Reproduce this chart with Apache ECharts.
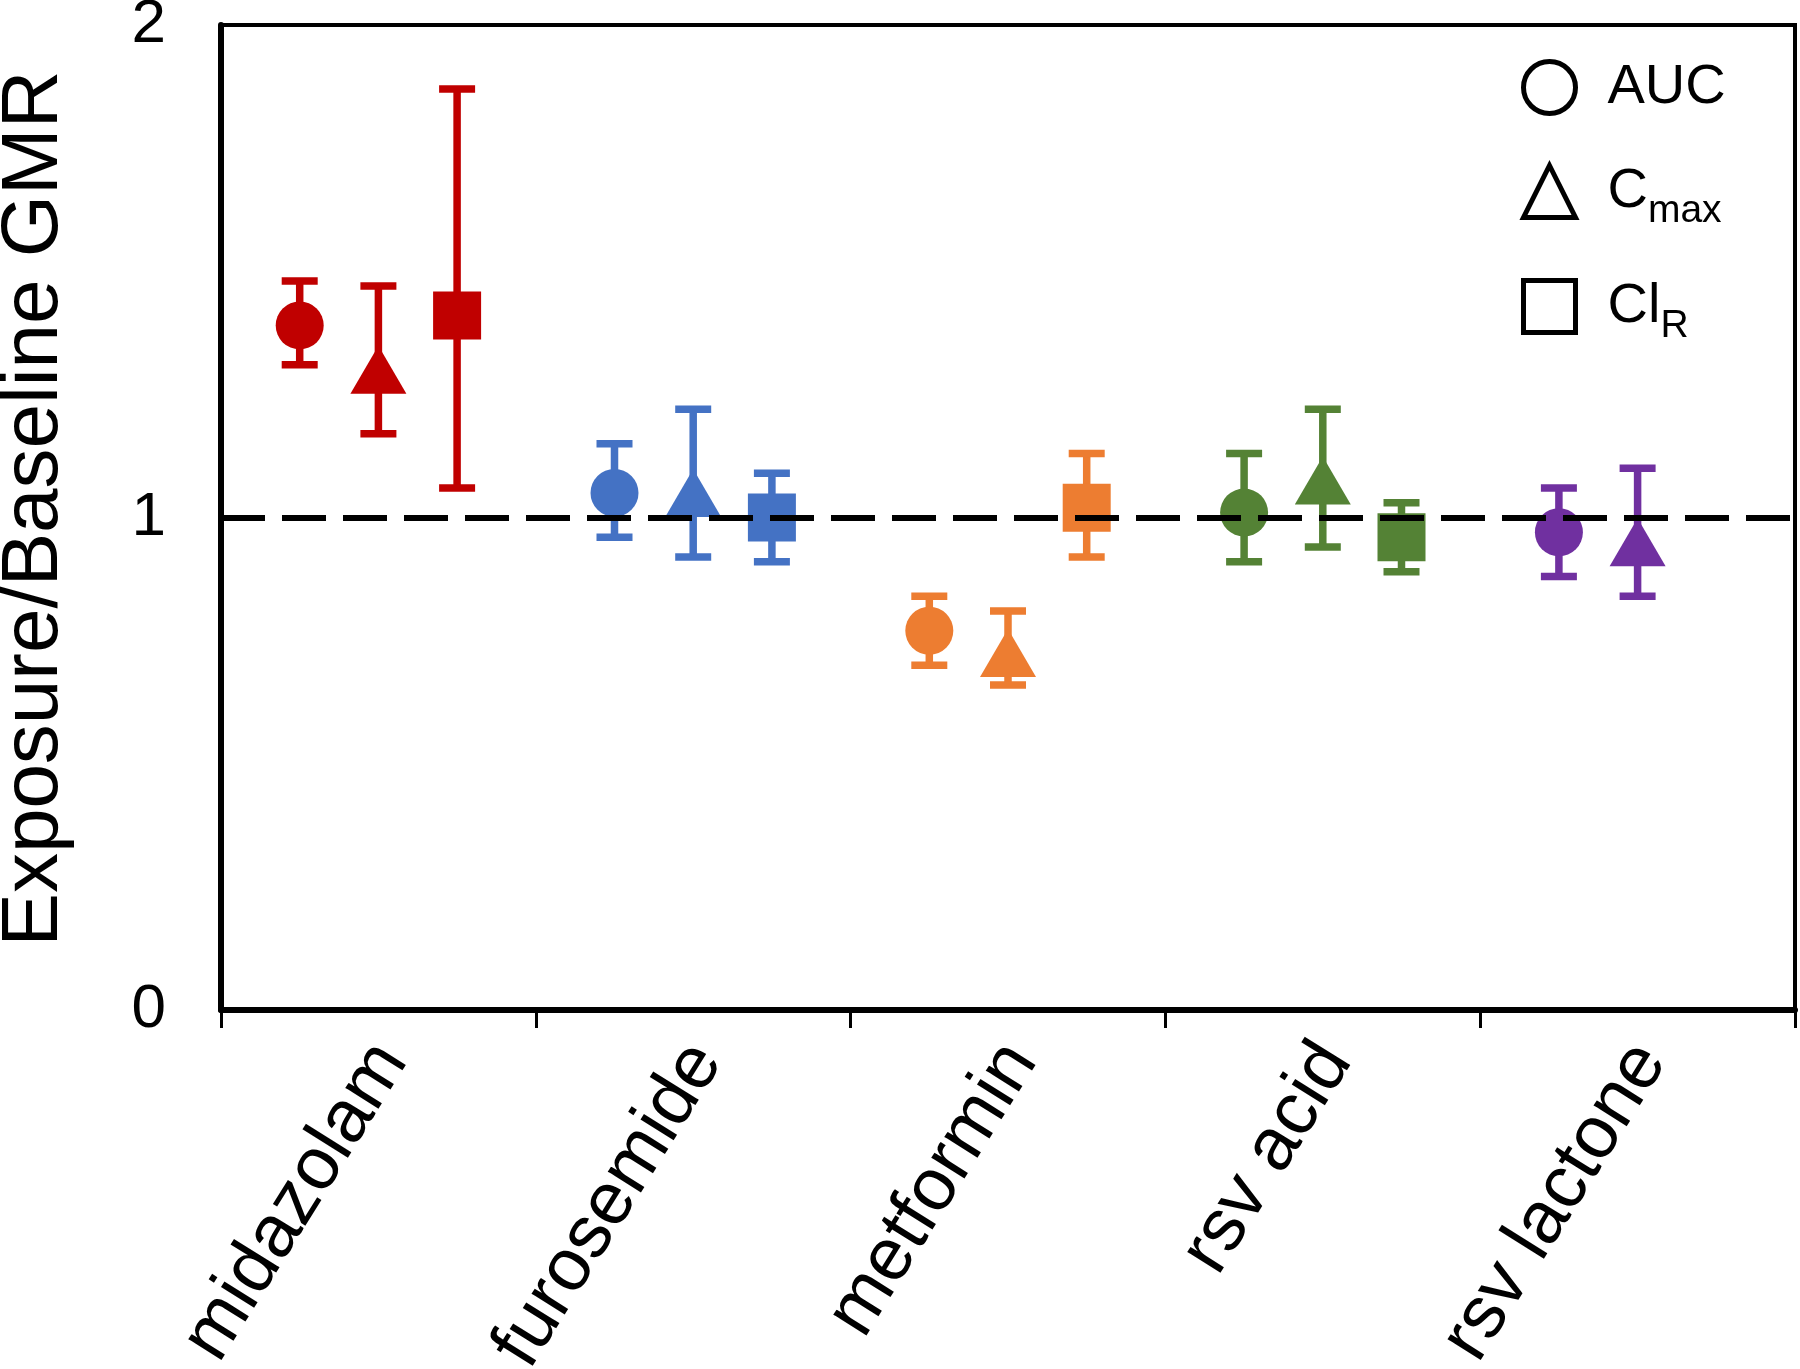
<!DOCTYPE html>
<html>
<head>
<meta charset="utf-8">
<script src="https://cdn.jsdelivr.net/npm/echarts@6/dist/echarts.min.js"></script>
<style>
html,body{margin:0;padding:0;background:#fff;}
#chart{width:1800px;height:1369px;}
</style>
</head>
<body>
<div id="chart"></div>
<script>
// ---- data ----
const categories = ['midazolam', 'furosemide', 'metformin', 'rsv acid', 'rsv lactone'];
const yTicks = [0, 1, 2];

const aucValues = [1.39, 1.05, 0.77, 1.01, 0.97];
const aucLow    = [1.31, 0.96, 0.70, 0.91, 0.88];
const aucHigh   = [1.48, 1.15, 0.84, 1.13, 1.06];

const cmaxValues = [1.30, 1.05, 0.725, 1.075, 0.95];
const cmaxLow    = [1.17, 0.92, 0.66, 0.94, 0.84];
const cmaxHigh   = [1.47, 1.22, 0.81, 1.22, 1.10];

const clrValues = [1.41, 1.00, 1.02, 0.96, null];
const clrLow    = [1.06, 0.91, 0.92, 0.89, null];
const clrHigh   = [1.87, 1.09, 1.13, 1.03, null];

const referenceLine = 1;

// ---- styles ----
const categoryColors = ['#C00000', '#4472C4', '#ED7D31', '#548235', '#7030A0'];
const FONT = '"Liberation Sans", Arial, Helvetica, sans-serif';

function buildData(vals, lows, highs) {
  const out = [];
  vals.forEach((v, i) => {
    if (v !== null) out.push([i, v, lows[i], highs[i]]);
  });
  return out;
}

function makeRenderer(shape, offsetFrac) {
  return function (params, api) {
    const ci = api.value(0);
    const p = api.coord([ci, api.value(1)]);
    const yLo = api.coord([ci, api.value(2)])[1];
    const yHi = api.coord([ci, api.value(3)])[1];
    const band = api.size([1, 0])[0];
    const x = p[0] + offsetFrac * band;
    const y = p[1];
    const color = categoryColors[ci];
    const lw = 7.5, cap = 18;
    const lineStyle = { stroke: color, lineWidth: lw, fill: null };
    const children = [
      { type: 'line', shape: { x1: x, y1: yLo, x2: x, y2: yHi }, style: lineStyle },
      { type: 'line', shape: { x1: x - cap, y1: yLo, x2: x + cap, y2: yLo }, style: lineStyle },
      { type: 'line', shape: { x1: x - cap, y1: yHi, x2: x + cap, y2: yHi }, style: lineStyle }
    ];
    if (shape === 'circle') {
      children.push({ type: 'circle', shape: { cx: x, cy: y, r: 24 }, style: { fill: color } });
    } else if (shape === 'triangle') {
      children.push({ type: 'polygon', shape: { points: [[x, y - 24], [x + 28, y + 24], [x - 28, y + 24]] }, style: { fill: color } });
    } else {
      children.push({ type: 'rect', shape: { x: x - 24, y: y - 24, width: 48, height: 48 }, style: { fill: color } });
    }
    return { type: 'group', children: children };
  };
}

const legendLabels = { 'AUC': 'AUC', 'Cmax': 'C{sub|max}', 'ClR': 'Cl{sub|R}' };
const legendIconStyle = { color: 'rgba(0,0,0,0)', borderColor: '#000', borderWidth: 5 };

const chart = echarts.init(document.getElementById('chart'), null, { renderer: 'canvas' });
chart.setOption({
  animation: false,
  backgroundColor: '#fff',
  grid: {
    left: 221, right: 5, top: 25, bottom: 359,
    containLabel: false, outerBoundsMode: 'none',
    show: true, borderColor: '#000', borderWidth: 4, backgroundColor: 'transparent'
  },
  legend: {
    orient: 'vertical', left: 1516, top: 54,
    itemWidth: 52, itemHeight: 52, itemGap: 36,
    selectedMode: false,
    data: [
      { name: 'AUC', icon: 'circle', itemStyle: legendIconStyle },
      { name: 'Cmax', icon: 'triangle', itemStyle: legendIconStyle },
      { name: 'ClR', icon: 'rect', itemStyle: legendIconStyle }
    ],
    formatter: function (name) { return legendLabels[name]; },
    textStyle: {
      fontFamily: FONT, fontSize: 56, color: '#000', padding: [0, 0, 0, 27],
      rich: { sub: { fontFamily: FONT, fontSize: 39, color: '#000', lineHeight: 39, padding: [40, 0, 0, 0] } }
    }
  },
  xAxis: {
    type: 'category',
    data: categories,
    boundaryGap: true,
    axisLine: { show: true, lineStyle: { color: '#000', width: 6 } },
    axisTick: { show: true, inside: false, length: 18, lineStyle: { color: '#000', width: 3 } },
    axisLabel: {
      rotate: 58, fontFamily: FONT, fontSize: 74, color: '#000', margin: 32, interval: 0,
      verticalAlign: 'top', lineHeight: 30
    },
    splitLine: { show: false }
  },
  yAxis: {
    type: 'value',
    min: yTicks[0], max: yTicks[yTicks.length - 1], interval: 1,
    name: 'Exposure/Baseline GMR',
    nameLocation: 'middle', nameGap: 146,
    nameTextStyle: { fontFamily: FONT, fontSize: 80, color: '#000', padding: [0, 0, 0, 18] },
    axisLine: { show: true, lineStyle: { color: '#000', width: 6 } },
    axisTick: { show: false },
    axisLabel: { fontFamily: FONT, fontSize: 62, color: '#000', margin: 55 },
    splitLine: { show: false }
  },
  series: [
    {
      name: 'reference', type: 'custom', z: 1, silent: true,
      renderItem: function () { return null; },
      data: [],
      markLine: {
        silent: true, symbol: 'none', label: { show: false },
        lineStyle: { color: '#000', width: 6, type: [44, 17] },
        data: [{ yAxis: referenceLine }]
      }
    },
    { name: 'AUC', type: 'custom', z: 3, renderItem: makeRenderer('circle', -0.25), data: buildData(aucValues, aucLow, aucHigh) },
    { name: 'Cmax', type: 'custom', z: 3, renderItem: makeRenderer('triangle', 0), data: buildData(cmaxValues, cmaxLow, cmaxHigh) },
    { name: 'ClR', type: 'custom', z: 3, renderItem: makeRenderer('square', 0.25), data: buildData(clrValues, clrLow, clrHigh) }
  ]
});
</script>
</body>
</html>
